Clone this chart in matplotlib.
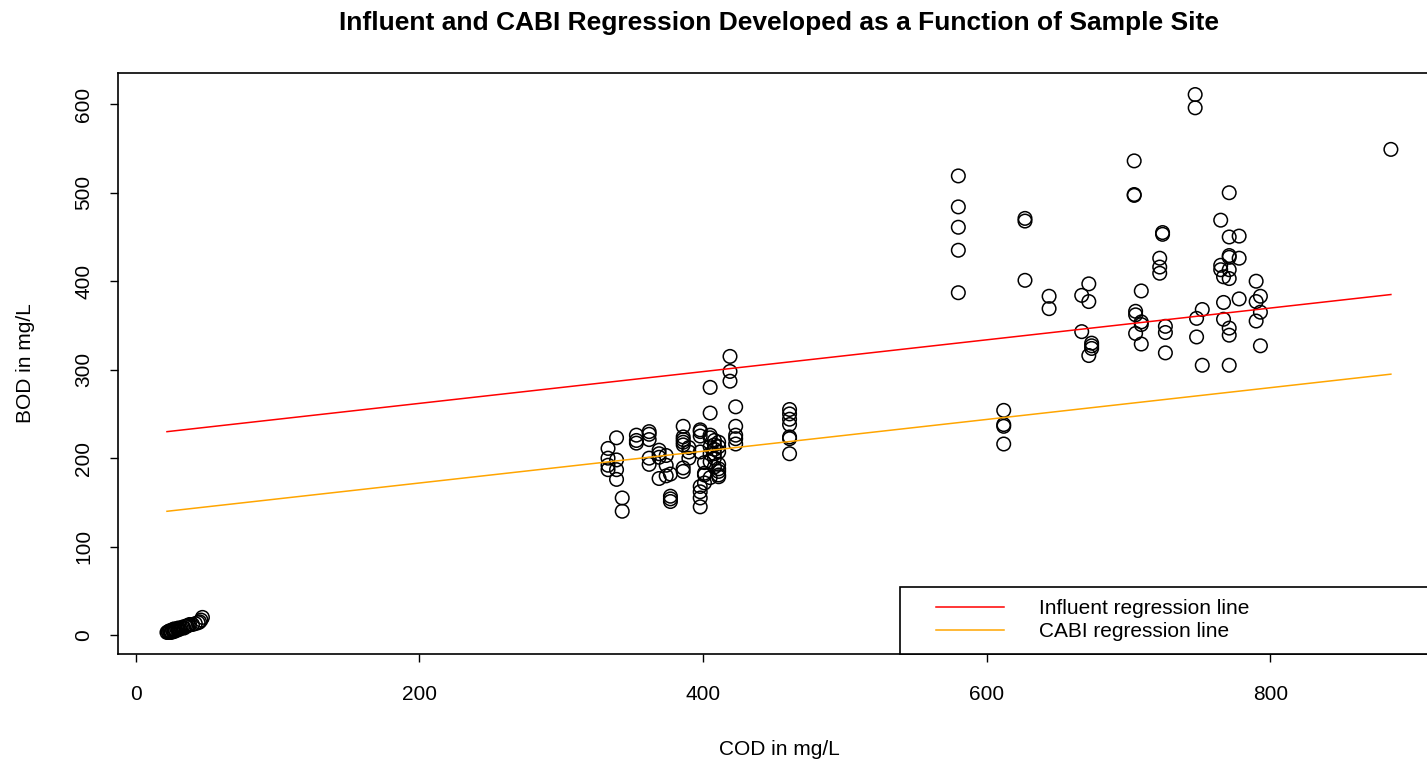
import matplotlib.pyplot as plt
import numpy as np
from matplotlib.legend_handler import HandlerLine2D

plt.rcParams['font.family'] = ['Liberation Sans', 'DejaVu Sans']

# Influent samples (COD, BOD in mg/L)
infl_cod = [333, 333, 333, 333, 339, 339, 339, 339, 343, 343,
            353, 353, 353, 362, 362, 362, 362, 362, 369, 369, 369, 369,
            374, 374, 374, 377, 377, 377, 377,
            386, 386, 386, 386, 386, 386, 386, 390, 390, 390,
            398, 398, 398, 398, 398, 398, 398, 398, 401, 401, 401, 401,
            405, 405, 405, 405, 405, 405, 405, 405,
            408, 408, 408, 408, 408, 408,
            411, 411, 411, 411, 411, 411, 411, 411,
            419, 419, 419, 423, 423, 423, 423, 423,
            461, 461, 461, 461, 461, 461, 461,
            580, 580, 580, 580, 580, 612, 612, 612, 612,
            627, 627, 627, 644, 644, 667, 667, 672, 672, 672, 674, 674, 674,
            704, 704, 704, 705, 705, 705, 709, 709, 709, 709,
            722, 722, 722, 724, 724, 726, 726, 726,
            747, 747, 748, 748, 752, 752, 765, 765, 765, 767, 767, 767,
            771, 771, 771, 771, 771, 771, 771, 771, 771,
            778, 778, 778, 790, 790, 790, 793, 793, 793, 885]
infl_bod = [211, 200, 192, 187, 223, 198, 187, 176, 155, 140,
            226, 220, 217, 230, 227, 221, 200, 193, 209, 205, 201, 177,
            203, 192, 180, 182, 157, 154, 151,
            236, 224, 221, 218, 215, 189, 185, 212, 207, 200,
            232, 230, 225, 207, 168, 162, 155, 145, 195, 183, 181, 172,
            280, 251, 226, 223, 213, 205, 196, 178,
            220, 215, 210, 205, 200, 190,
            218, 213, 207, 193, 188, 185, 181, 179,
            315, 298, 287, 258, 236, 226, 222, 216,
            255, 250, 244, 238, 224, 222, 205,
            519, 484, 461, 435, 387, 254, 238, 236, 216,
            471, 468, 401, 383, 369, 384, 343, 397, 377, 316, 330, 327, 324,
            536, 497, 498, 366, 362, 341, 389, 354, 351, 329,
            426, 416, 409, 455, 453, 349, 342, 319,
            611, 596, 358, 337, 368, 305, 469, 418, 413, 405, 376, 357,
            500, 450, 429, 427, 413, 403, 347, 339, 305,
            451, 426, 380, 400, 377, 355, 383, 365, 327, 549]

# CABI samples, the small blob near the origin
cabi_cod = [22, 23, 23, 24, 24, 25, 25, 26, 26, 27, 27, 28, 28, 29, 30,
            30, 31, 32, 33, 34, 35, 36, 37, 38, 40, 42, 44, 45, 46, 47]
cabi_bod = [3, 3, 4, 4, 5, 3, 4, 5, 6, 4, 7, 5, 6, 7, 6,
            8, 7, 8, 9, 8, 10, 10, 11, 12, 12, 13, 14, 15, 17, 20]

# regression lines (intercept, slope)
infl_fit = (226.0, 0.1796)
cabi_fit = (136.0, 0.1796)

cod = np.array(infl_cod + cabi_cod)
bod = np.array(infl_bod + cabi_bod)

fig = plt.figure(figsize=(14.27, 7.63), dpi=100)
ax = fig.add_axes([0.0827, 0.1429, 0.9263, 0.7614])

ax.scatter(cod, bod, s=95, facecolors='none', edgecolors='black', linewidths=1.1)

xs = np.array([cod.min(), cod.max()])
ax.plot(xs, infl_fit[0] + infl_fit[1] * xs, color='red', lw=1.1,
        label='Influent regression line')
ax.plot(xs, cabi_fit[0] + cabi_fit[1] * xs, color='orange', lw=1.1,
        label='CABI regression line')

# R style 4% padding
xr = cod.max() - cod.min()
yr = bod.max() - bod.min()
ax.set_xlim(cod.min() - 0.04 * xr, cod.max() + 0.04 * xr)
ax.set_ylim(bod.min() - 0.04 * yr, bod.max() + 0.04 * yr)

ax.set_xticks([0, 200, 400, 600, 800])
ax.set_yticks([0, 100, 200, 300, 400, 500, 600])
ax.tick_params(direction='out', length=6, width=1, labelsize=15)
ax.tick_params(axis='x', pad=16)
ax.tick_params(axis='y', pad=12)
for lab in ax.get_yticklabels():
    lab.set_rotation(90)
    lab.set_va('center')
for sp in ax.spines.values():
    sp.set_linewidth(1.2)

ax.set_xlabel('COD in mg/L', fontsize=15, labelpad=26)
ax.set_ylabel('BOD in mg/L', fontsize=15, labelpad=28)
ax.set_title('Influent and CABI Regression Developed as a Function of Sample Site',
             fontsize=19, fontweight='bold', pad=31)

# R legend: handle indented from the box edge
hmap = {l: HandlerLine2D(xpad=1.13) for l in ax.get_lines()}
leg = ax.legend(loc='lower left', bbox_to_anchor=(0.5915, 0, 0.4085, 0.115),
                mode='expand', fontsize=15, handlelength=4.39, handletextpad=1.68,
                borderpad=0.6, labelspacing=0.2, fancybox=False,
                edgecolor='black', framealpha=1, borderaxespad=0,
                handler_map=hmap)
leg.get_frame().set_linewidth(1.2)

plt.savefig('out.png', dpi=100)
